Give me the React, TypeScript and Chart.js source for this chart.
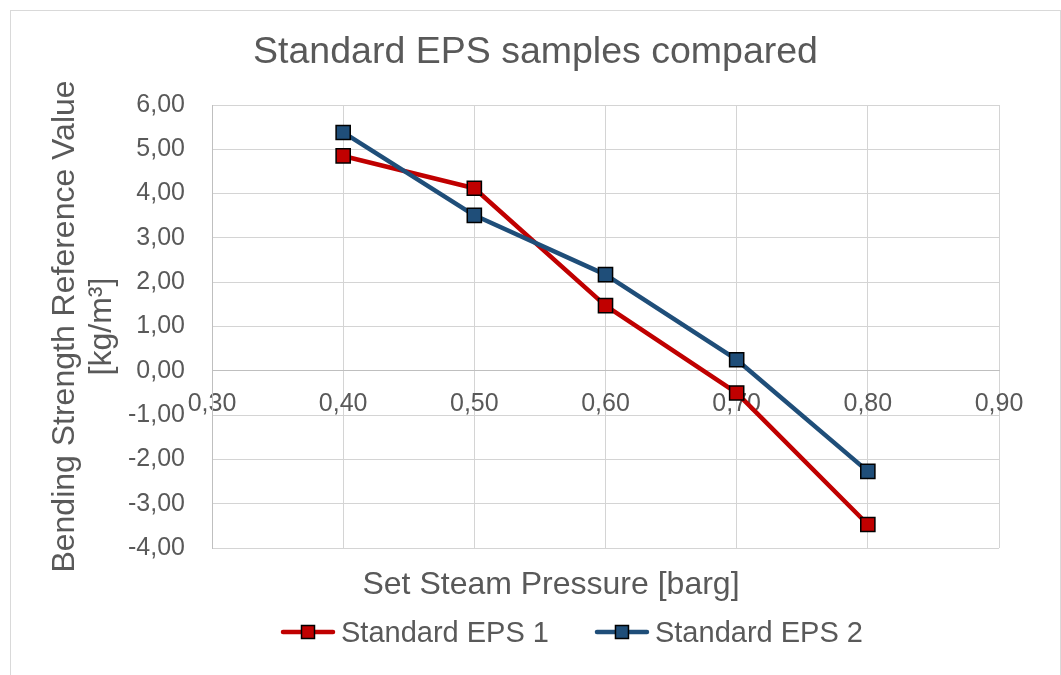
import { useEffect, useRef } from 'react';
import { Chart, registerables } from 'chart.js';

Chart.register(...registerables);

const pressure = [0.4, 0.5, 0.6, 0.7, 0.8];
const eps1 = [4.85, 4.12, 1.47, -0.5, -3.47];
const eps2 = [5.38, 3.51, 2.17, 0.25, -2.27];
const seriesNames = ['Standard EPS 1', 'Standard EPS 2'];
const seriesColors = ['#C00000', '#1F4E79'];
const chartTitle = 'Standard EPS samples compared';
const xTitle = 'Set Steam Pressure [barg]';
const yTitle = ['Bending Strength Reference Value', '[kg/m³]'];
const xMin = 0.3;
const xMax = 0.9;
const xStep = 0.1;
const yMin = -4;
const yMax = 6;
const yStep = 1;

const FONT = "'Liberation Sans', Arial, sans-serif";
const TEXT = '#595959';
const GRID = '#d4d4d4';
const AXIS = '#bfbfbf';

const fmt = (v: number) => Number(v).toFixed(2).replace('.', ',');

const framePlugin = {
  id: 'frame',
  beforeDraw(chart: any) {
    const { ctx, width, height } = chart;
    ctx.save();
    ctx.fillStyle = '#ffffff';
    ctx.fillRect(0, 0, width, height);
    ctx.strokeStyle = '#d9d9d9';
    ctx.lineWidth = 1;
    ctx.strokeRect(10.5, 10.5, 1050, height + 20);
    ctx.restore();
  },
};

const extraPlugin = {
  id: 'extraLabels',
  afterDraw(chart: any) {
    const { ctx } = chart;
    ctx.save();
    ctx.fillStyle = TEXT;
    ctx.font = `32px ${FONT}`;
    ctx.textAlign = 'center';
    ctx.textBaseline = 'middle';
    ctx.fillText(xTitle, 551, 585);

    ctx.font = `29px ${FONT}`;
    ctx.textAlign = 'left';
    let x = 281;
    const y = 632;
    chart.data.datasets.forEach((ds: any) => {
      ctx.strokeStyle = ds.borderColor;
      ctx.lineWidth = 4.5;
      ctx.lineCap = 'round';
      ctx.beginPath();
      ctx.moveTo(x + 2, y);
      ctx.lineTo(x + 52, y);
      ctx.stroke();
      ctx.fillStyle = ds.pointBackgroundColor;
      ctx.fillRect(x + 27 - 6.5, y - 6.5, 13, 13);
      ctx.strokeStyle = '#000';
      ctx.lineWidth = 1.5;
      ctx.strokeRect(x + 27 - 6.5, y - 6.5, 13, 13);
      ctx.fillStyle = TEXT;
      ctx.fillText(ds.label, x + 60, y + 2);
      x += 60 + ctx.measureText(ds.label).width + 46;
    });
    ctx.restore();
  },
};

export default function App() {
  const ref = useRef<HTMLCanvasElement | null>(null);

  useEffect(() => {
    if (!ref.current) return;
    const mk = (vals: number[], i: number, order: number) => ({
      label: seriesNames[i],
      data: pressure.map((p, k) => ({ x: p, y: vals[k] })),
      showLine: true,
      borderColor: seriesColors[i],
      backgroundColor: seriesColors[i],
      borderWidth: 4.5,
      borderCapStyle: 'round',
      borderJoinStyle: 'round',
      pointStyle: 'rect',
      pointRadius: 10,
      pointHoverRadius: 10,
      pointBackgroundColor: seriesColors[i],
      pointBorderColor: '#000000',
      pointBorderWidth: 1.5,
      order,
    });

    const chart = new Chart(ref.current, {
      type: 'scatter',
      data: {
        datasets: [mk(eps1, 0, 1), mk(eps2, 1, 0)],
      },
      options: {
        animation: false,
        responsive: false,
        maintainAspectRatio: false,
        devicePixelRatio: 1,
        events: [],
        layout: { padding: { left: 10, right: 0, top: 0, bottom: 127 } },
        plugins: {
          legend: { display: false },
          tooltip: { enabled: false },
          title: {
            display: true,
            text: chartTitle,
            color: TEXT,
            font: { family: FONT, size: 37.5, weight: 'normal' },
            padding: { top: 30.5, bottom: 29.5 },
          },
        },
        scales: {
          x: {
            type: 'linear',
            position: { y: 0 },
            min: xMin,
            max: xMax,
            ticks: {
              stepSize: xStep,
              color: TEXT,
              font: { family: FONT, size: 25 },
              padding: 18,
              callback: (v: any) => fmt(v),
            },
            grid: { color: GRID, lineWidth: 1, drawTicks: false },
            border: { color: AXIS, width: 1 },
          },
          y: {
            type: 'linear',
            position: 'left',
            min: yMin,
            max: yMax,
            afterFit: (s: any) => {
              s.width = 202;
            },
            ticks: {
              stepSize: yStep,
              color: TEXT,
              font: { family: FONT, size: 25 },
              padding: 27,
              callback: (v: any) => fmt(v),
            },
            grid: { color: GRID, lineWidth: 1, drawTicks: false },
            border: { color: AXIS, width: 1 },
            title: {
              display: true,
              text: yTitle,
              color: TEXT,
              font: { family: FONT, size: 32, lineHeight: 1.15 },
              padding: { top: 36.6, bottom: 0 },
            },
          },
          y2: {
            type: 'linear',
            position: 'right',
            display: true,
            afterFit: (s: any) => {
              s.width = 62;
            },
            ticks: { display: false },
            grid: { display: false, drawTicks: false },
            border: { display: false },
          },
        },
      } as any,
      plugins: [framePlugin, extraPlugin],
    });
    return () => chart.destroy();
  }, []);

  return (
    <div style={{ position: 'fixed', left: 0, top: 0, width: 1061, height: 675, background: '#fff' }}>
      <canvas ref={ref} width={1061} height={675} style={{ display: 'block', width: 1061, height: 675 }} />
    </div>
  );
}
